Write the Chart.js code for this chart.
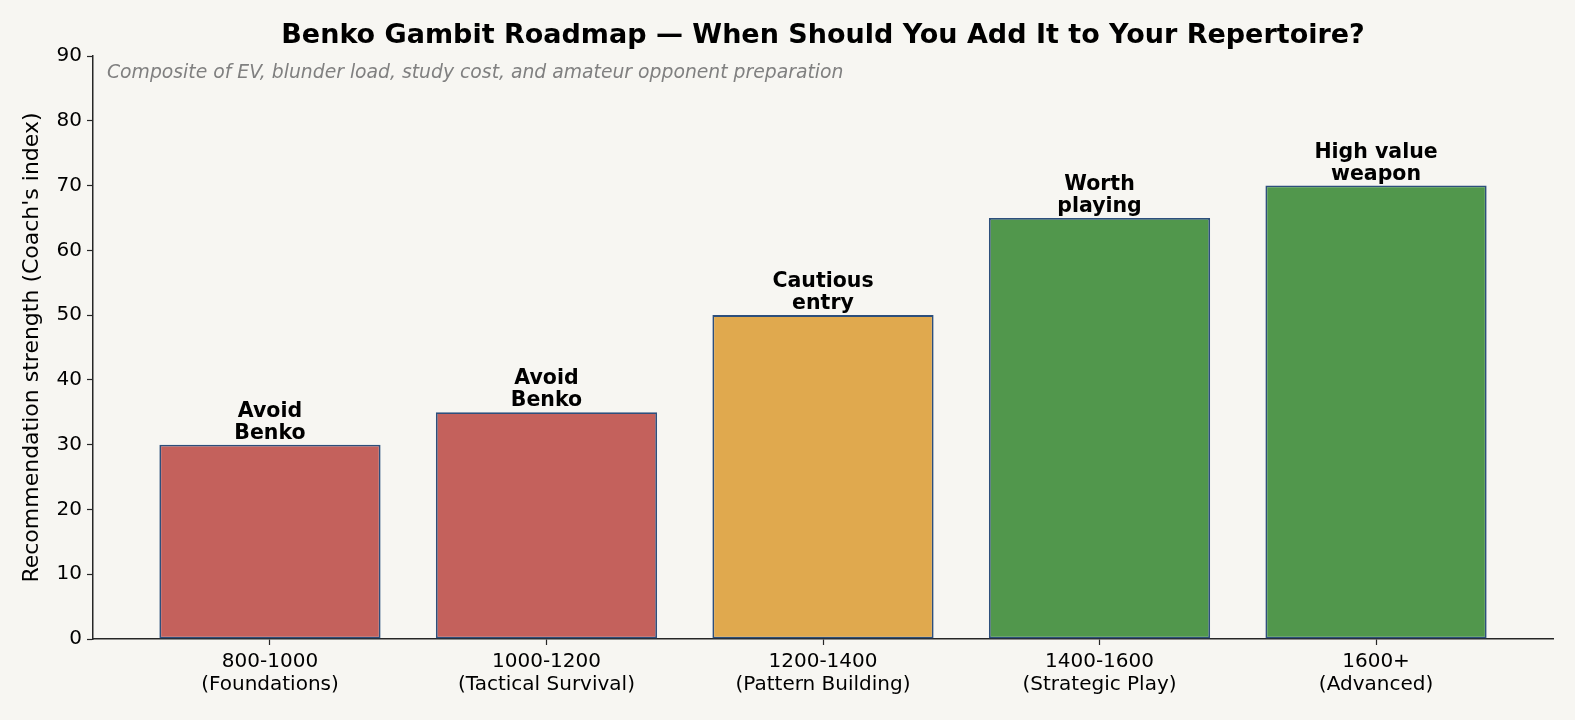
<!DOCTYPE html>
<html>
<head>
<meta charset="utf-8">
<script src="https://cdn.jsdelivr.net/npm/chart.js@4.4.1/dist/chart.umd.min.js"></script>
<style>
  html, body { margin: 0; padding: 0; background: #f7f6f2; }
  #wrap { width: 1575px; height: 720px; }
</style>
</head>
<body>
<div id="wrap"><canvas id="myChart" width="1575" height="720"></canvas></div>
<script>
// rating bands (two-line tick labels)
var bands = [
  ['800-1000', '(Foundations)'],
  ['1000-1200', '(Tactical Survival)'],
  ['1200-1400', '(Pattern Building)'],
  ['1400-1600', '(Strategic Play)'],
  ['1600+', '(Advanced)']
];
var scores = [30, 35, 50, 65, 70];
var verdicts = [
  ['Avoid', 'Benko'],
  ['Avoid', 'Benko'],
  ['Cautious', 'entry'],
  ['Worth', 'playing'],
  ['High value', 'weapon']
];
var barColors = ['#c4615c', '#c4615c', '#e0a94e', '#51974c', '#51974c'];
var yTicks = [0, 10, 20, 30, 40, 50, 60, 70, 80, 90];

var titleText = 'Benko Gambit Roadmap \u2014 When Should You Add It to Your Repertoire?';
var noteText = 'Composite of EV, blunder load, study cost, and amateur opponent preparation';

var FONT = '"DejaVu Sans", sans-serif';

// title, note and the verdict over each bar
var extras = {
  id: 'extras',
  afterDatasetsDraw: function(chart){
    var ctx = chart.ctx;
    var area = chart.chartArea;
    ctx.save();
    ctx.fillStyle = '#000';
    ctx.textAlign = 'center';
    ctx.textBaseline = 'alphabetic';
    ctx.font = 'bold 27px ' + FONT;
    ctx.fillText(titleText, (area.left + area.right) / 2, 43);

    ctx.textAlign = 'left';
    ctx.fillStyle = '#808080';
    ctx.font = 'italic 18.8px ' + FONT;
    ctx.fillText(noteText, area.left + 14, 78);

    ctx.textAlign = 'center';
    ctx.fillStyle = '#000';
    ctx.font = 'bold 20.5px ' + FONT;
    var meta = chart.getDatasetMeta(0);
    meta.data.forEach(function(bar, i){
      var lines = verdicts[i];
      ctx.fillText(lines[1], bar.x, bar.y - 6);
      ctx.fillText(lines[0], bar.x, bar.y - 28);
    });
    ctx.restore();
  }
};

var ctx = document.getElementById('myChart').getContext('2d');
var chart = new Chart(ctx, {
  type: 'bar',
  data: {
    datasets: [{
      data: scores.map(function(v, i){ return {x: i, y: v}; }),
      backgroundColor: barColors,
      borderColor: '#2d4f7c',
      borderWidth: 1.8,
      borderSkipped: false,
      barPercentage: 0.8,
      categoryPercentage: 1.0
    }]
  },
  plugins: [extras],
  options: {
    responsive: false,
    animation: false,
    devicePixelRatio: 1,
    layout: { padding: { top: 56, right: 22, left: 0, bottom: 0 } },
    plugins: {
      legend: { display: false },
      tooltip: { enabled: false }
    },
    scales: {
      x: {
        type: 'linear',
        min: -0.64,
        max: 4.64,
        offset: false,
        afterBuildTicks: function(axis){
          axis.ticks = bands.map(function(b, i){ return {value: i}; });
        },
        afterFit: function(axis){ axis.height = 81; },
        ticks: {
          autoSkip: false,
          maxRotation: 0,
          color: '#000',
          font: { family: FONT, size: 20, lineHeight: 1.15 },
          padding: 5,
          callback: function(v){ return bands[v]; }
        },
        grid: {
          display: true,
          offset: false,
          drawOnChartArea: false,
          drawTicks: true,
          tickLength: 6,
          tickColor: '#262626',
          tickWidth: 1.2
        },
        border: { display: true, color: '#262626', width: 1.5 }
      },
      y: {
        min: 0,
        max: 90,
        afterBuildTicks: function(axis){
          axis.ticks = yTicks.map(function(v){ return {value: v}; });
        },
        afterFit: function(axis){ axis.width = 93; },
        ticks: {
          color: '#000',
          font: { family: FONT, size: 20 },
          padding: 5
        },
        grid: {
          display: true,
          drawOnChartArea: false,
          drawTicks: true,
          tickLength: 6,
          tickColor: '#262626',
          tickWidth: 1.2
        },
        border: { display: true, color: '#262626', width: 1.5 },
        title: {
          display: true,
          text: "Recommendation strength (Coach's index)",
          color: '#000',
          font: { family: FONT, size: 22 },
          padding: { top: 19, bottom: 0 }
        }
      }
    }
  }
});
</script>
</body>
</html>
